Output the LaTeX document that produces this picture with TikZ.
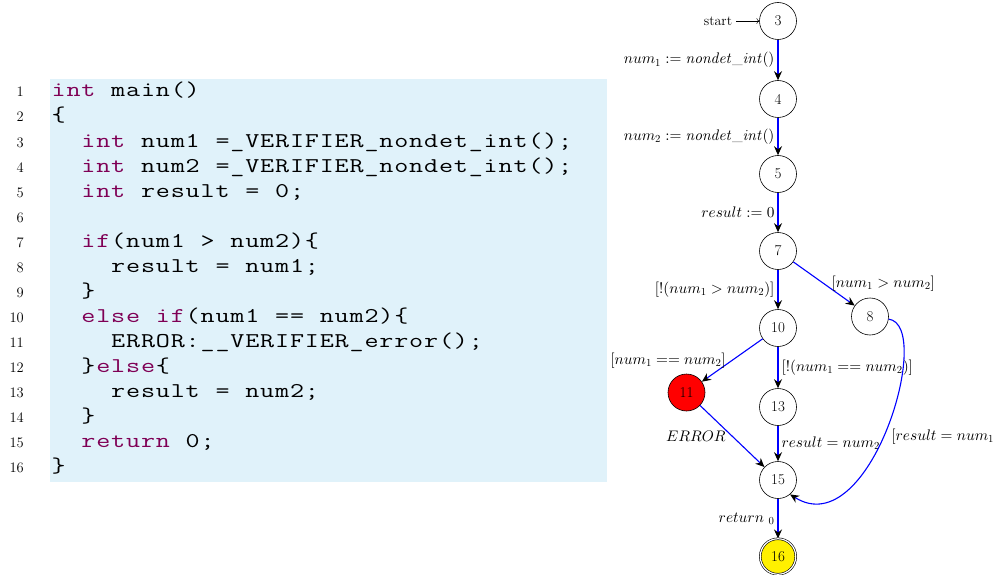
\documentclass[tikz,border=0pt]{standalone}
\usepackage{graphicx}
\usetikzlibrary{arrows.meta}

% let the math fonts scale to any size
\DeclareFontShape{OML}{cmm}{m}{it}{<->cmmi10}{}
\DeclareFontShape{OT1}{cmr}{m}{n}{<->cmr10}{}
\DeclareFontShape{OT1}{cmr}{m}{it}{<->cmti10}{}
\DeclareFontShape{OMS}{cmsy}{m}{n}{<->cmsy10}{}

\definecolor{kwc}{RGB}{127,0,85}
\definecolor{codebg}{RGB}{224,242,250}
\definecolor{edgeblue}{RGB}{0,0,255}
\definecolor{finalyellow}{RGB}{255,240,0}

% fixed-pitch code: every character sits in a cell of width \cw
\newlength\cw
\setlength\cw{14.9pt}
\newcommand\cchar[1]{\makebox[\cw][c]{\scalebox{1.3}[1]{#1}}}
\makeatletter
\newcommand\cl[1]{\@tfor\cx:=#1\do{\cchar{\cx}}}
\makeatother
\newcommand\kw[1]{\textcolor{kwc}{\cl{#1}}}

\tikzset{
  code/.style={anchor=base west, inner sep=0pt, font=\fontsize{21}{25}\selectfont\ttfamily},
  lineno/.style={anchor=base east, inner sep=0pt, font=\fontsize{14.5}{16}\selectfont},
  state/.style={circle, draw=black, line width=0.6pt, minimum size=37pt, inner sep=0pt,
                font=\fontsize{15}{17}\selectfont},
  errstate/.style={state, fill=red},
  finalstate/.style={state, fill=finalyellow, double, double distance=1.2pt, minimum size=35.5pt},
  cfa/.style={draw=edgeblue, line width=1.1pt,
              -{Stealth[color=black, length=9pt, width=8pt, inset=3pt]}},
  lbl/.style={font=\fontsize{15.3}{18}\selectfont, inner sep=3pt},
}

\begin{document}
\begin{tikzpicture}[x=1pt, y=-1pt]
\useasboundingbox (0,0) rectangle (993,575);

% ---------------- source listing ----------------
\fill[codebg] (50,79) rectangle (607,482);

\foreach \i in {1,...,16}
  \node[lineno] (ln\i) at (24,{97+25*(\i-1)}) {\i};

\node[code] (c1)  at (51,97)  {\kw{int}\cl{~main()}};
\node[code] (c2)  at (51,122) {\cl{\{}};
\node[code] (c3)  at (51,147) {\cl{~~}\kw{int}\cl{~num1~=\_VERIFIER\_nondet\_int();}};
\node[code] (c4)  at (51,172) {\cl{~~}\kw{int}\cl{~num2~=\_VERIFIER\_nondet\_int();}};
\node[code] (c5)  at (51,197) {\cl{~~}\kw{int}\cl{~result~=~0;}};
\node[code] (c7)  at (51,247) {\cl{~~}\kw{if}\cl{(num1~>~num2)\{}};
\node[code] (c8)  at (51,272) {\cl{~~~~result~=~num1;}};
\node[code] (c9)  at (51,297) {\cl{~~\}}};
\node[code] (c10) at (51,322) {\cl{~~}\kw{else}\cl{~}\kw{if}\cl{(num1~==~num2)\{}};
\node[code] (c11) at (51,347) {\cl{~~~~ERROR:\_\_VERIFIER\_error();}};
\node[code] (c12) at (51,372) {\cl{~~\}}\kw{else}\cl{\{}};
\node[code] (c13) at (51,397) {\cl{~~~~result~=~num2;}};
\node[code] (c14) at (51,422) {\cl{~~\}}};
\node[code] (c15) at (51,447) {\cl{~~}\kw{return}\cl{~0;}};
\node[code] (c16) at (51,472) {\cl{\}}};

% ---------------- control-flow automaton ----------------
\node[state]      (n3)  at (778,21)    {3};
\node[state]      (n4)  at (778,99)    {4};
\node[state]      (n5)  at (778,174)   {5};
\node[state]      (n7)  at (778,251)   {7};
\node[state]      (n10) at (778,328)   {10};
\node[state]      (n8)  at (870,316.5) {8};
\node[errstate]   (n11) at (686.5,392.5) {11};
\node[state]      (n13) at (778,407)   {13};
\node[state]      (n15) at (778,480)   {15};
\node[finalstate] (n16) at (778,556.5) {16};

\node[font=\fontsize{14}{16}\selectfont, inner sep=0pt] (st) at (718,21) {start};
\draw[->, line width=0.5pt] (st.east) ++(4,0) coordinate (st0) (st0) -- (n3);

\draw[cfa] (n3) -- node[lbl, left] {$num_1 := \mathit{nondet\_int}()$} (n4);
\draw[cfa] (n4) -- node[lbl, left] {$num_2 := \mathit{nondet\_int}()$} (n5);
\draw[cfa] (n5) -- node[lbl, left] {$result := 0$} (n7);
\draw[cfa] (n7) -- node[lbl, left] {$[!(num_1 > num_2)]$} (n10);
\draw[cfa] (n7) -- node[lbl, right, xshift=4pt] {$[num_1 > num_2]$} (n8);
\draw[cfa] (n10) -- node[lbl, left, xshift=-3pt] {$[num_1 == num_2]$} (n11);
\draw[cfa] (n10) -- node[lbl, right] {$[!(num_1 == num_2)]$} (n13);
\draw[cfa] (n11) -- node[lbl, left, xshift=-3pt] {$ERROR$} (n15);
\draw[cfa] (n13) -- node[lbl, right] {$result = num_2$} (n15);
\draw[cfa] (n8.-8) .. controls (935,325) and (870,545) ..
   node[lbl, right, pos=0.53, xshift=5pt] {$[result = num_1]$} (n15.-50);
\draw[cfa] (n15) -- node[lbl, left] {$return\ {}_0$} (n16);
\end{tikzpicture}
\end{document}
